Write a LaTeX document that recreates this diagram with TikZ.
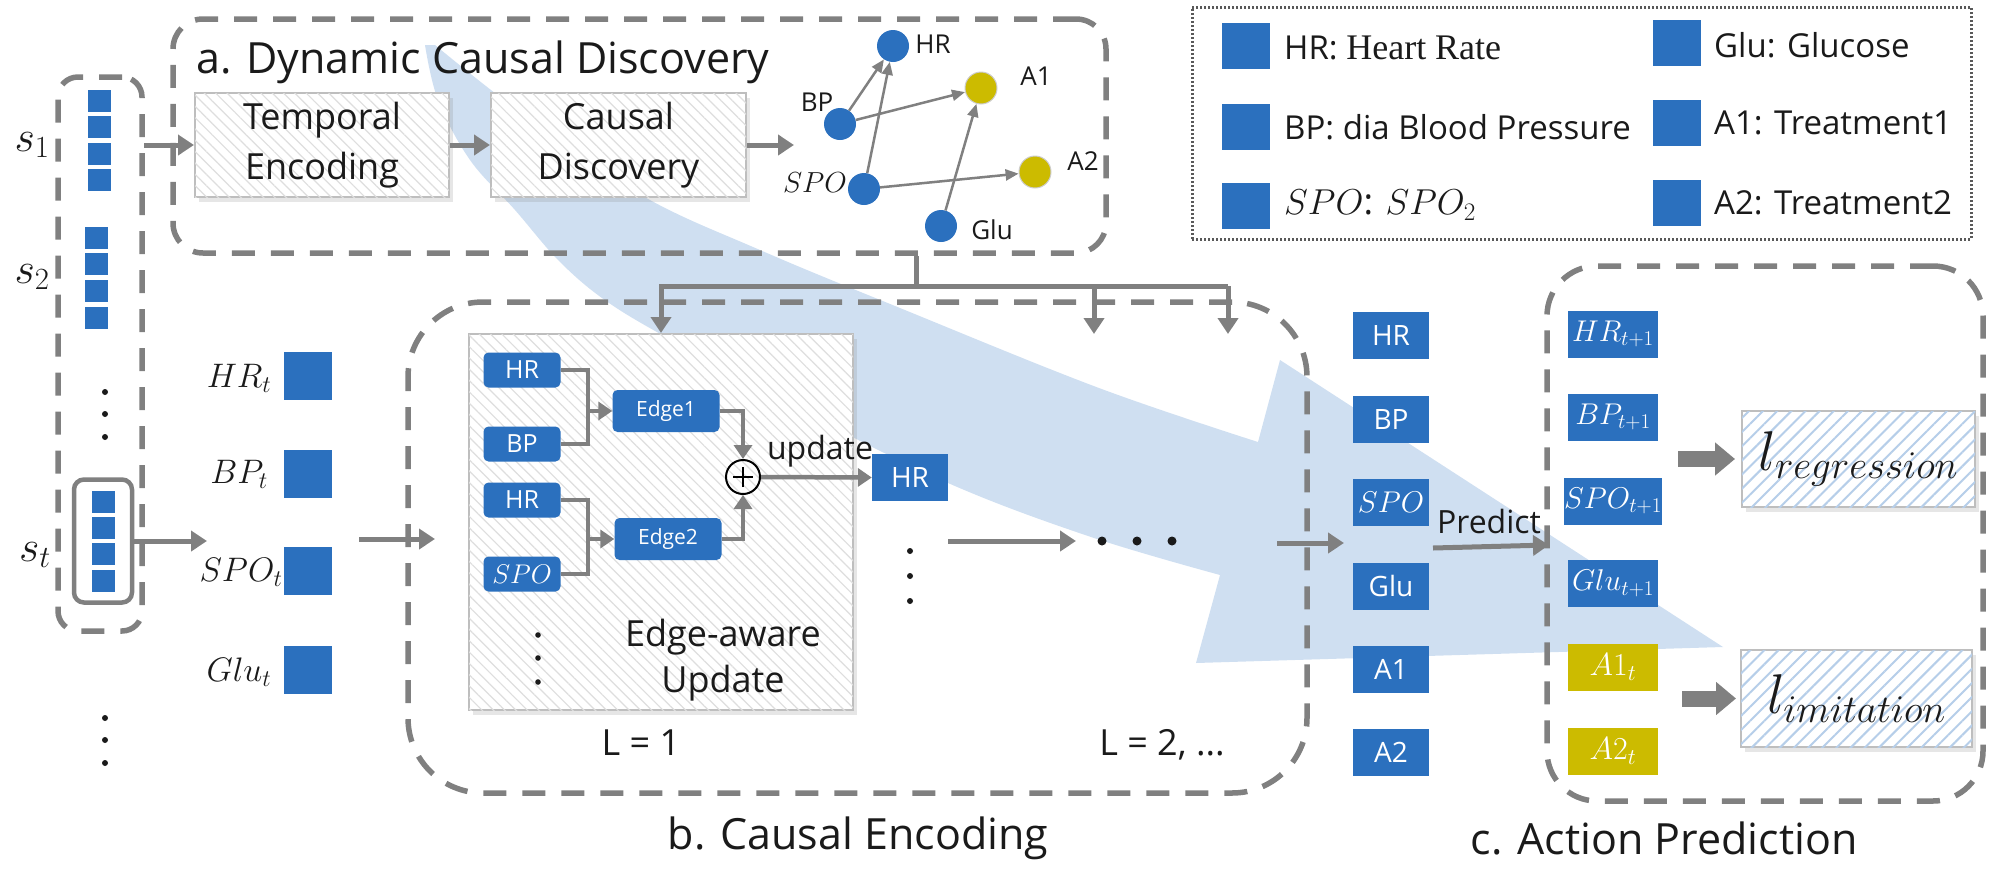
\RequirePackage{fix-cm}
\documentclass[tikz,border=0pt]{standalone}
\usepackage{fontspec}
\setmainfont{Open Sans}
\newfontfamily\serifheart{Liberation Serif}
\usetikzlibrary{arrows.meta,patterns.meta,shadows}
\definecolor{myblue}{RGB}{43,112,190}
\definecolor{myyellow}{RGB}{204,187,0}
\definecolor{lgray}{RGB}{128,128,128}
\definecolor{bandblue}{RGB}{207,223,241}
\definecolor{hatchgray}{RGB}{222,222,222}
\definecolor{hatchblue}{RGB}{182,206,233}
\definecolor{boxborder}{RGB}{190,190,190}
\definecolor{txt}{RGB}{26,26,26}
\newcommand\myfs[1]{\fontsize{#1}{#1}\selectfont}
\tikzset{
  dbox/.style={draw=lgray, line width=5.5pt, dash pattern=on 23pt off 16pt, inner sep=0pt},
  conn/.style={draw=lgray, line width=5pt, -{Triangle[length=16pt,width=20pt]}},
  connsm/.style={draw=lgray, line width=4.5pt, -{Triangle[length=14pt,width=18pt]}},
  plainline/.style={draw=lgray, line width=4.5pt},
  gedge/.style={draw=lgray, line width=2.5pt, -{Triangle[length=13pt,width=11pt]}},
  fatarrow/.style={draw=lgray, line width=16pt, -{Triangle[length=20pt,width=32pt]}},
  gnode/.style={circle, fill=myblue, minimum size=32pt, inner sep=0pt},
  ynode/.style={circle, fill=myyellow, draw=black!20, line width=1pt, minimum size=32pt, inner sep=0pt},
  glabel/.style={text=txt, font=\myfs{26}, inner sep=0pt},
  bbox/.style={fill=myblue, text=white, inner sep=0pt, minimum width=76pt, minimum height=47pt, font=\myfs{28}},
  cbox/.style={fill=myblue, text=white, inner sep=0pt, minimum width=90pt, minimum height=47pt, font=\myfs{30}},
  ybox/.style={cbox, fill=myyellow, font=\myfs{32}},
  ibox/.style={fill=myblue, text=white, rounded corners=5pt, inner sep=0pt, minimum width=77pt, minimum height=35pt, font=\myfs{25}},
  ebox/.style={ibox, minimum width=107pt, minimum height=42pt, font=\myfs{21}},
  statesq/.style={fill=myblue, inner sep=0pt, minimum width=23pt, minimum height=22pt},
  fsq/.style={fill=myblue, inner sep=0pt, minimum width=48pt, minimum height=48pt},
  lsq/.style={fill=myblue, inner sep=0pt, minimum width=48pt, minimum height=46pt},
  hatchbox/.style={draw=boxborder, line width=2pt, fill=white, inner sep=0pt,
    drop shadow={shadow xshift=4pt, shadow yshift=-5pt, opacity=0.2},
    postaction={pattern={Lines[angle=-45,distance=8pt,line width=1.2pt]}, pattern color=hatchgray}},
  losshatch/.style={draw=boxborder, line width=2pt, fill=white, inner sep=0pt,
    drop shadow={shadow xshift=4pt, shadow yshift=-5pt, opacity=0.2},
    postaction={pattern={Lines[angle=45,distance=10pt,line width=2pt]}, pattern color=hatchblue}},
  txtnode/.style={text=txt, inner sep=0pt},
}
\begin{document}
\begin{tikzpicture}[x=1pt,y=-1pt]
\useasboundingbox (0,0) rectangle (2005,873);

% big light blue curved arrow (background)
\fill[bandblue] plot[smooth,tension=0.6] coordinates {(435,45) (520,112) (641,195) (760,250) (900,308) (1099,388) (1258,442)}
  -- (1280,360) -- (1723,647) -- (1196,663) -- (1220,575)
  -- plot[smooth,tension=0.6] coordinates {(1220,575) (1091,537) (948,483) (790,405) (680,345) (609,303) (560,262) (515,210) (470,160) (438,100) (425,45)} -- cycle;

% ---------- left: states ----------
\node[dbox, rounded corners=20pt, minimum width=84pt, minimum height=554pt] (ps) at (100,354) {};
\foreach \y [count=\i] in {101,127,154,180} \node[statesq] (sa\i) at (99,\y) {};
\foreach \y [count=\i] in {238,264,291,318} \node[statesq] (sb\i) at (96,\y) {};
\foreach \y [count=\i] in {502,528,554,581} \node[statesq] (sc\i) at (103,\y) {};
\node[draw=lgray, line width=4.5pt, rounded corners=10pt, minimum width=58pt, minimum height=123pt, inner sep=0pt] (stbox) at (103,541) {};
\node[txtnode, font=\myfs{44}] (s1lab) at (32,145) {$s_1$};
\node[txtnode, font=\myfs{44}] (s2lab) at (32,277) {$s_2$};
\node[txtnode, font=\myfs{44}] (stlab) at (35,555) {$s_t$};
\foreach \y in {392,414,437,718,740,763} \fill[txt] (105,\y) circle (3pt);

% features
\node[fsq] (fHR) at (308,376) {};
\node[fsq] (fBP) at (308,474) {};
\node[fsq] (fSPO) at (308,571) {};
\node[fsq] (fGlu) at (308,670) {};
\node[txtnode, font=\myfs{34}] (lHR) at (239,378) {$HR_t$};
\node[txtnode, font=\myfs{34}] (lBP) at (239,474) {$BP_t$};
\node[txtnode, font=\myfs{34}] (lSPO) at (241,572) {$SPO_t$};
\node[txtnode, font=\myfs{34}] (lGlu) at (239,672) {$Glu_t$};

% ---------- panel a ----------
\node[dbox, rounded corners=30pt, minimum width=933pt, minimum height=234pt] (pa) at (639.5,136) {};
\node[txtnode, anchor=west, font=\myfs{43}] (ta) at (196,62) {a. Dynamic Causal Discovery};
\node[hatchbox, minimum width=254pt, minimum height=104pt, text=txt, align=center, font=\fontsize{36}{50}\selectfont] (te) at (322,145) {Temporal\\Encoding};
\node[hatchbox, minimum width=255pt, minimum height=104pt, text=txt, align=center, font=\fontsize{36}{50}\selectfont] (cd) at (618.5,145) {Causal\\Discovery};
\coordinate (s1out) at (144,145);
\draw[conn] (s1out) -- (te.west);
\draw[conn] (te.east) -- (cd.west);
\coordinate (cdend) at (794,145);
\draw[conn] (cd.east) -- (cdend);

% causal graph
\node[gnode] (gHR) at (893,46) {};
\node[ynode] (gA1) at (981,88) {};
\node[gnode] (gBP) at (840,124) {};
\node[gnode] (gSPO) at (864,189) {};
\node[ynode] (gA2) at (1035,172) {};
\node[gnode] (gGlu) at (941,226) {};
\node[glabel] (gHRl) at (933,44) {HR};
\node[glabel] (gA1l) at (1036,76) {A1};
\node[glabel] (gBPl) at (817,102) {BP};
\node[glabel, font=\myfs{29}] (gSPOl) at (815,183) {$SPO$};
\node[glabel] (gA2l) at (1083,161) {A2};
\node[glabel] (gGlul) at (992,230) {Glu};
\draw[gedge] (gBP) -- (gHR);
\draw[gedge] (gSPO) -- (gHR);
\draw[gedge] (gBP) -- (gA1);
\draw[gedge] (gSPO) -- (gA2);
\draw[gedge] (gGlu) -- (gA1);

% ---------- legend ----------
\node[draw=black!65, line width=3pt, dash pattern=on 2pt off 2pt, minimum width=779pt, minimum height=232pt, inner sep=0pt] (legend) at (1581.5,123) {};
\node[lsq] (lq1) at (1246,46) {};
\node[lsq] (lq2) at (1246,126.5) {};
\node[lsq] (lq3) at (1246,206) {};
\node[lsq] (lq4) at (1677,42.5) {};
\node[lsq] (lq5) at (1677,122.5) {};
\node[lsq] (lq6) at (1677,202.5) {};
\node[txtnode, anchor=west, font=\myfs{33}] (lt1) at (1284,48) {HR: {\serifheart\myfs{36}Heart Rate}};
\node[txtnode, anchor=west, font=\myfs{33}] (lt2) at (1284,127) {BP: dia Blood Pressure};
\node[txtnode, anchor=west, font=\myfs{36}] (lt3) at (1284,205) {$SPO$: $SPO_2$};
\node[txtnode, anchor=west, font=\myfs{33}] (lt4) at (1714,45) {Glu: Glucose};
\node[txtnode, anchor=west, font=\myfs{33}] (lt5) at (1714,123) {A1: Treatment1};
\node[txtnode, anchor=west, font=\myfs{33}] (lt6) at (1714,203) {A2: Treatment2};

% ---------- panel b ----------
\node[dbox, rounded corners=75pt, minimum width=899pt, minimum height=491pt] (pb) at (857.5,547.5) {};
\coordinate (stend) at (207,541);
\draw[conn] (stbox.east) -- (stend);
\coordinate (pbin1) at (359,539);
\coordinate (pbin2) at (435,539);
\draw[conn] (pbin1) -- (pbin2);

\node[hatchbox, minimum width=384pt, minimum height=376pt] (eab) at (661,522) {};
\node[ibox] (iHR1) at (522,370) {HR};
\node[ibox] (iBP) at (522,444) {BP};
\node[ibox] (iHR2) at (522,500) {HR};
\node[ibox, font=\myfs{27}] (iSPO) at (522,574) {$SPO$};
\node[ebox] (edge1) at (666,411) {Edge1};
\node[ebox] (edge2) at (668,539) {Edge2};
\coordinate (j1) at (588,411);
\coordinate (j2) at (588,539);
\draw[plainline] (iHR1.east) -| (j1);
\draw[plainline] (iBP.east) -| (j1);
\draw[connsm] (j1) -- (edge1.west);
\draw[plainline] (iHR2.east) -| (j2);
\draw[plainline] (iSPO.east) -| (j2);
\draw[connsm] (j2) -- (edge2.west);
\node[circle, draw=black, line width=2pt, minimum size=34pt, inner sep=0pt,
  path picture={\draw[line width=2.2pt] (path picture bounding box.center) ++(-10pt,0pt) -- ++(20pt,0pt);
                \draw[line width=2.2pt] (path picture bounding box.center) ++(0pt,-10pt) -- ++(0pt,20pt);}] (oplus) at (743,477) {};
\draw[connsm] (edge1.east) -| (oplus.north);
\draw[connsm] (edge2.east) -| (oplus.south);
\node[bbox] (hrout) at (910,477.5) {HR};
\draw[connsm] (oplus.east) -- (hrout.west);
\node[txtnode, font=\myfs{32}] (updl) at (820,451) {update};
\foreach \y in {635,658,682} \fill[txt] (538,\y) circle (2.8pt);
\node[txtnode, align=center, font=\fontsize{36}{46}\selectfont] (eatext) at (723,660) {Edge-aware\\Update};
\node[txtnode, font=\myfs{36}] (L1) at (641,743) {L = 1};
\foreach \y in {551,576,601} \fill[txt] (910,\y) circle (3pt);
\coordinate (da) at (948,541);
\coordinate (db) at (1076,541);
\draw[conn] (da) -- (db);
\foreach \x in {1102,1137,1172} \fill[txt] (\x,541) circle (4.5pt);
\node[txtnode, font=\myfs{36}] (L2) at (1162,745) {L = 2, ...};
\coordinate (mc1) at (1277,543);
\coordinate (mc2) at (1344,543);
\draw[conn] (mc1) -- (mc2);

% distribution from panel a
\coordinate (dsplit) at (916,286);
\coordinate (dM) at (1094,286);
\coordinate (dR) at (1228,286);
\coordinate (dMend) at (1094,334);
\coordinate (dRend) at (1228,334);
\draw[plainline, line width=5pt] (pa.south -| dsplit) -- (dsplit);
\draw[conn] (dsplit) -| (eab.north);
\draw[plainline, line width=5pt] (dsplit) -- (dR);
\draw[conn] (dM) -- (dMend);
\draw[conn] (dR) -- (dRend);

% ---------- middle column ----------
\node[bbox] (mHR) at (1391,335) {HR};
\node[bbox] (mBP) at (1391,419) {BP};
\node[bbox, font=\myfs{30}] (mSPO) at (1391,502) {$SPO$};
\node[bbox] (mGlu) at (1391,586) {Glu};
\node[bbox] (mA1) at (1391,669) {A1};
\node[bbox] (mA2) at (1391,752) {A2};

% ---------- panel c ----------
\node[dbox, rounded corners=50pt, minimum width=436pt, minimum height=535pt] (pc) at (1765,533.5) {};
\node[cbox] (cHR) at (1613,334) {$HR_{t+1}$};
\node[cbox] (cBP) at (1613,417) {$BP_{t+1}$};
\node[cbox] (cSPO) at (1613,501) {$SPO_{t+1}$};
\node[cbox] (cGlu) at (1613,583) {$Glu_{t+1}$};
\node[ybox] (cA1) at (1613,667) {$A1_t$};
\node[ybox] (cA2) at (1613,751) {$A2_t$};
\coordinate (pst) at (1433,548);
\coordinate (pen) at (1549,545);
\draw[conn] (pst) -- (pen);
\node[txtnode, font=\myfs{32}] (predl) at (1489,521) {Predict};
\node[losshatch, minimum width=233pt, minimum height=96pt, text=txt, font=\myfs{56}] (lreg) at (1858.5,459) {$l_{regression}$};
\node[losshatch, minimum width=231pt, minimum height=97pt, text=txt, font=\myfs{56}] (limi) at (1856.5,698.5) {$l_{imitation}$};
\coordinate (fa1) at (1678,459);
\coordinate (fa2) at (1682,698.5);
\draw[fatarrow, shorten >=6pt] (fa1) -- (lreg.west);
\draw[fatarrow, shorten >=4pt] (fa2) -- (limi.west);

% ---------- titles ----------
\node[txtnode, font=\myfs{43}] (tb) at (858,838) {b. Causal Encoding};
\node[txtnode, font=\myfs{43}] (tc) at (1664,838) {c. Action Prediction};
\end{tikzpicture}
\end{document}
